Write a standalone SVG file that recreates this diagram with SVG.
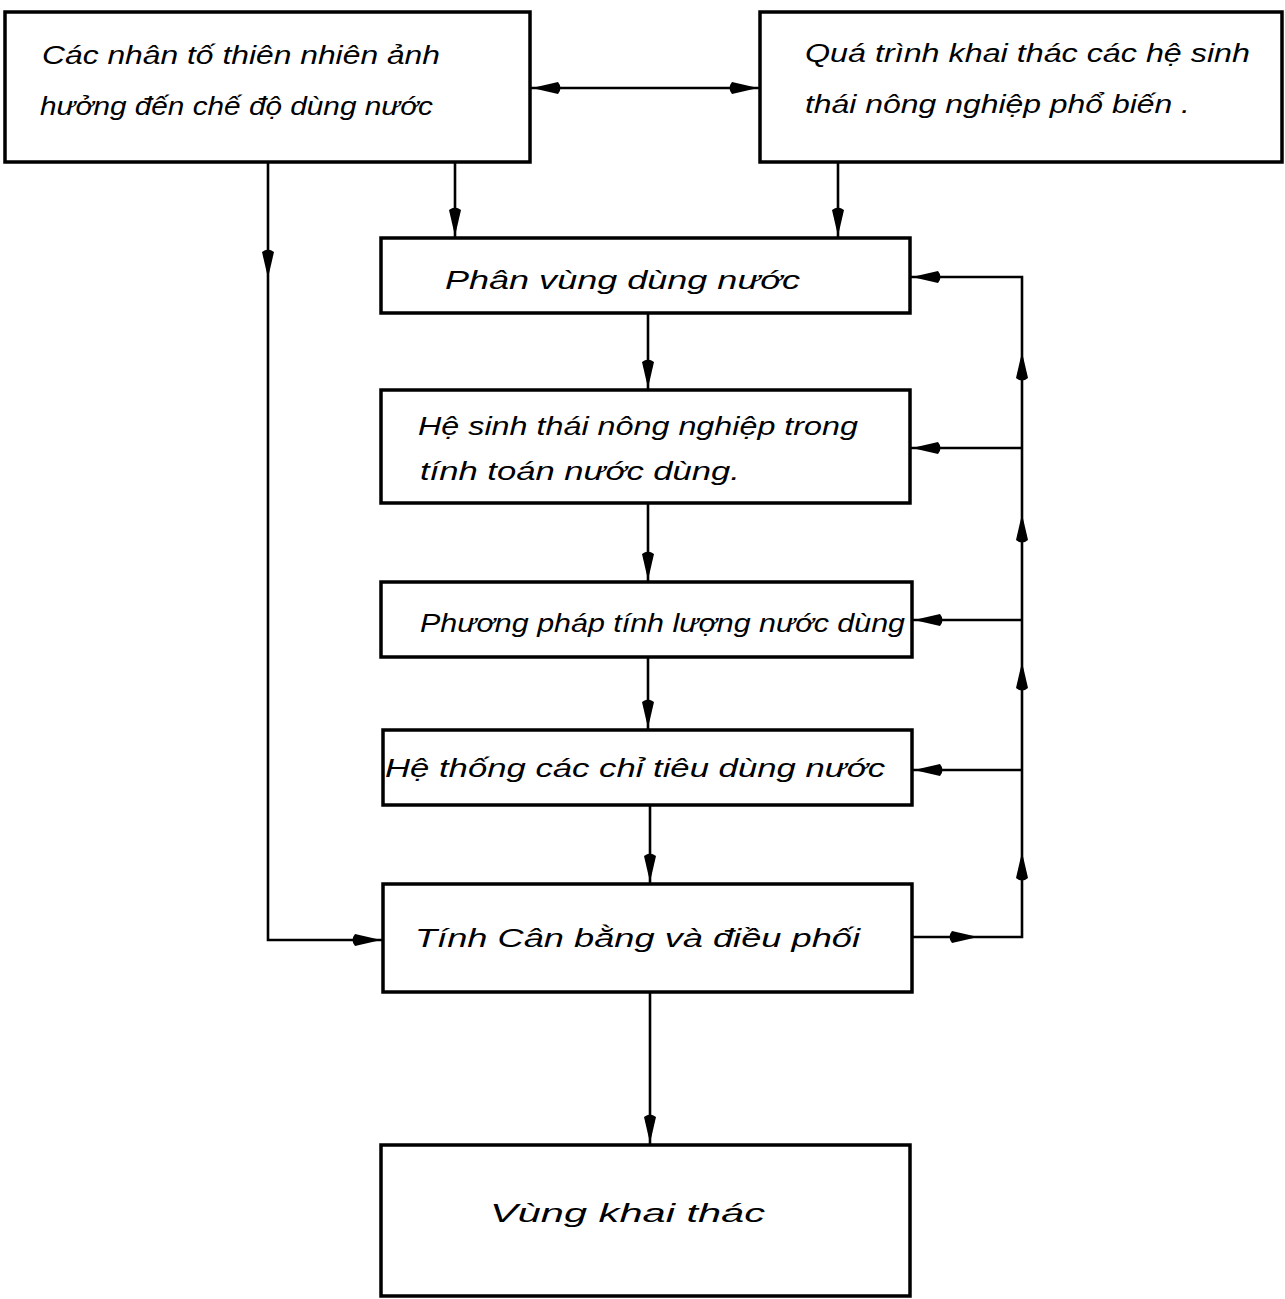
<svg xmlns="http://www.w3.org/2000/svg" xmlns:xlink="http://www.w3.org/1999/xlink" width="1285" height="1299" viewBox="0 0 1285 1299">
<style>
.box{fill:#fff;stroke:#000;stroke-width:3.5}
.ln{fill:none;stroke:#000;stroke-width:2.6}
.t{font-family:"Liberation Sans","DejaVu Sans",sans-serif;font-style:italic;font-size:25px;fill:#000}
</style>
<defs>
<path id="ah" d="M0,0 L-26,-6 Q-31,0 -26,6 Z" fill="#000"/>
</defs>
<rect width="1285" height="1299" fill="#fff"/>
<g id="connectors">
<line class="ln" x1="530" y1="88" x2="760" y2="88"/>
<polyline class="ln" points="268,162 268,940 383,940"/>
<line class="ln" x1="455" y1="162" x2="455" y2="238"/>
<line class="ln" x1="838" y1="162" x2="838" y2="238"/>
<line class="ln" x1="648" y1="313" x2="648" y2="390"/>
<line class="ln" x1="648" y1="503" x2="648" y2="582"/>
<line class="ln" x1="648" y1="657" x2="648" y2="730"/>
<line class="ln" x1="650" y1="805" x2="650" y2="884"/>
<line class="ln" x1="650" y1="992" x2="650" y2="1145"/>
<polyline class="ln" points="912,937 1022,937 1022,277 910,277"/>
<line class="ln" x1="1022" y1="448" x2="910" y2="448"/>
<line class="ln" x1="1022" y1="620" x2="912" y2="620"/>
<line class="ln" x1="1022" y1="770" x2="912" y2="770"/>
<use xlink:href="#ah" transform="translate(532,88) rotate(180)"/>
<use xlink:href="#ah" transform="translate(758,88)"/>
<use xlink:href="#ah" transform="translate(268,278) rotate(90)"/>
<use xlink:href="#ah" transform="translate(381,940)"/>
<use xlink:href="#ah" transform="translate(455,236) rotate(90)"/>
<use xlink:href="#ah" transform="translate(838,236) rotate(90)"/>
<use xlink:href="#ah" transform="translate(648,388) rotate(90)"/>
<use xlink:href="#ah" transform="translate(648,580) rotate(90)"/>
<use xlink:href="#ah" transform="translate(648,728) rotate(90)"/>
<use xlink:href="#ah" transform="translate(650,882) rotate(90)"/>
<use xlink:href="#ah" transform="translate(650,1143) rotate(90)"/>
<use xlink:href="#ah" transform="translate(978,937)"/>
<use xlink:href="#ah" transform="translate(1022,852) rotate(-90)"/>
<use xlink:href="#ah" transform="translate(1022,662) rotate(-90)"/>
<use xlink:href="#ah" transform="translate(1022,514) rotate(-90)"/>
<use xlink:href="#ah" transform="translate(1022,352) rotate(-90)"/>
<use xlink:href="#ah" transform="translate(912,277) rotate(180)"/>
<use xlink:href="#ah" transform="translate(912,448) rotate(180)"/>
<use xlink:href="#ah" transform="translate(914,620) rotate(180)"/>
<use xlink:href="#ah" transform="translate(914,770) rotate(180)"/>
</g>
<g id="n1">
<rect class="box" x="5" y="12" width="525" height="150"/>
<text class="t" x="42" y="64" textLength="398" lengthAdjust="spacingAndGlyphs">Các nhân tố thiên nhiên ảnh</text>
<text class="t" x="40" y="115" textLength="393" lengthAdjust="spacingAndGlyphs">hưởng đến chế độ dùng nước</text>
</g>
<g id="n2">
<rect class="box" x="760" y="12" width="522" height="150"/>
<text class="t" x="805" y="62" textLength="445" lengthAdjust="spacingAndGlyphs">Quá trình khai thác các hệ sinh</text>
<text class="t" x="805" y="113" textLength="385" lengthAdjust="spacingAndGlyphs">thái nông nghiệp phổ biến .</text>
</g>
<g id="n3">
<rect class="box" x="381" y="238" width="529" height="75"/>
<text class="t" x="445" y="289" textLength="355" lengthAdjust="spacingAndGlyphs">Phân vùng dùng nước</text>
</g>
<g id="n4">
<rect class="box" x="381" y="390" width="529" height="113"/>
<text class="t" x="418" y="435" textLength="440" lengthAdjust="spacingAndGlyphs">Hệ sinh thái nông nghiệp trong</text>
<text class="t" x="420" y="480" textLength="320" lengthAdjust="spacingAndGlyphs">tính toán nước dùng.</text>
</g>
<g id="n5">
<rect class="box" x="381" y="582" width="531" height="75"/>
<text class="t" x="420" y="632" textLength="485" lengthAdjust="spacingAndGlyphs">Phương pháp tính lượng nước dùng</text>
</g>
<g id="n6">
<rect class="box" x="383" y="730" width="529" height="75"/>
<text class="t" x="385" y="777" textLength="500" lengthAdjust="spacingAndGlyphs">Hệ thống các chỉ tiêu dùng nước</text>
</g>
<g id="n7">
<rect class="box" x="383" y="884" width="529" height="108"/>
<text class="t" x="415" y="947" textLength="445" lengthAdjust="spacingAndGlyphs">Tính Cân bằng và điều phối</text>
</g>
<g id="n8">
<rect class="box" x="381" y="1145" width="529" height="151"/>
<text class="t" x="490" y="1222" textLength="275" lengthAdjust="spacingAndGlyphs">Vùng khai thác</text>
</g>
</svg>
